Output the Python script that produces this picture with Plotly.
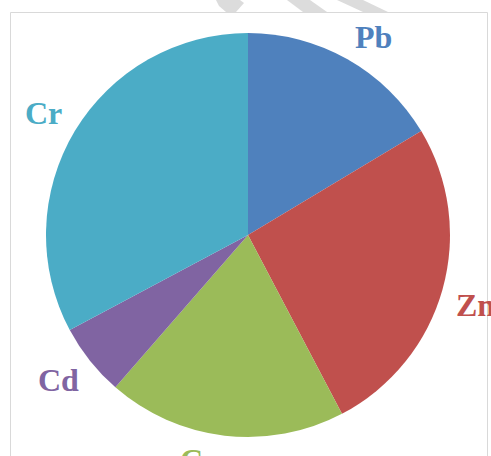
import math
import plotly.graph_objects as go

labels = ["Pb", "Zn", "Cu", "Cd", "Cr"]
values = [16.4, 25.9, 19.1, 5.8, 32.8]
colors = ["#4F81BD", "#C0504D", "#9BBB59", "#8064A2", "#4BACC6"]

W, H = 491, 456
cx, cy, r = 248, 235, 202
label_gap = 12
font_size = 32

fig = go.Figure(go.Pie(
    labels=labels, values=values, sort=False, direction="clockwise", rotation=0,
    marker=dict(colors=colors, line=dict(width=0)),
    textinfo="none", showlegend=False, hoverinfo="label+value",
    domain=dict(x=[(cx - r) / W, (cx + r) / W], y=[1 - (cy + r) / H, 1 - (cy - r) / H]),
))

def px(x):
    return x / W

def py(y):
    return 1 - y / H

# outside labels: the tight text box corner touches a circle just outside the pie,
# at the mid-angle of each slice
total = sum(values)
acc = 0.0
annotations = []
pad_v = round(font_size * 0.25)  # space between annotation box edge and glyph cap/baseline
for lab, val, col in zip(labels, values, colors):
    mid = (acc + val / 2) / total * 2 * math.pi
    acc += val
    s, c = math.sin(mid), math.cos(mid)
    d = r + label_gap
    xa = "left" if s >= 0 else "right"
    ya = "bottom" if c >= 0 else "top"
    annotations.append(dict(
        x=px(cx + d * s), y=py(cy - d * c), xref="paper", yref="paper",
        text=lab, showarrow=False, xanchor=xa, yanchor=ya,
        yshift=-pad_v if ya == "bottom" else pad_v,
        font=dict(family="Liberation Serif", size=font_size, color=col, weight="bold"),
    ))

shapes = []
# frame (left, top, right sides; bottom is off-page)
frame = [(10.5, 456), (10.5, 12.5), (487.5, 12.5), (487.5, 456)]
shapes.append(dict(type="path", xref="paper", yref="paper",
                   path="M " + " L ".join(f"{px(x)},{py(y)}" for x, y in frame),
                   line=dict(color="#D9D9D9", width=1), layer="below"))
# watermark stripes above frame
stripes = [
    [(216, 0), (240, 0), (244, 3), (236, 12), (226, 12), (219, 6)],
    [(287, 0), (310, 0), (327, 12), (303, 12)],
    [(337, 0), (363, 0), (388, 12), (363, 12)],
]
for st in stripes:
    path = "M " + " L ".join(f"{px(x)},{py(y)}" for x, y in st) + " Z"
    shapes.append(dict(type="path", xref="paper", yref="paper", path=path,
                       fillcolor="#DCDCDC", line=dict(width=0), layer="below"))

fig.update_layout(
    width=W, height=H, margin=dict(l=0, r=0, t=0, b=0),
    paper_bgcolor="white", plot_bgcolor="white", shapes=shapes, annotations=annotations,
)
fig.write_html(
    "out.html",
    post_script=(
        "var d=document.getElementById('{plot_id}');"
        "d.style.overflow='hidden';"
        "document.body.style.margin='0';"
        "document.body.style.overflow='hidden';"
    ),
)
